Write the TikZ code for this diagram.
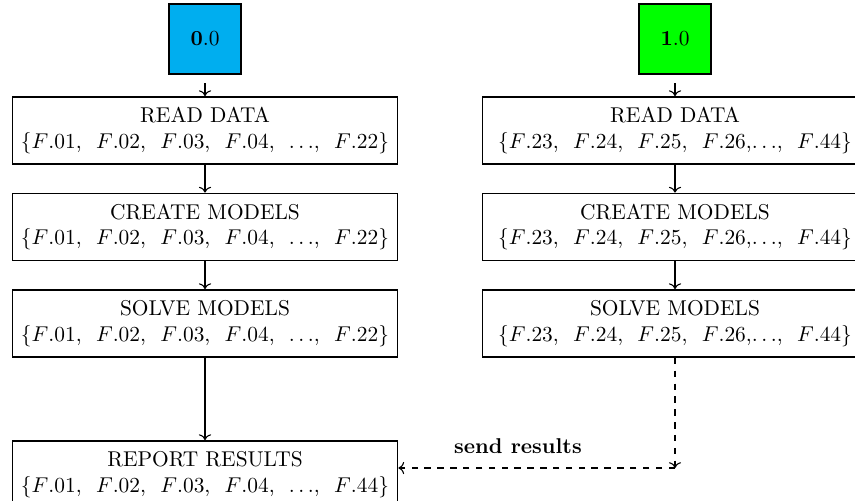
\documentclass[tikz,border=0pt]{standalone}
\usetikzlibrary{arrows.meta}
\definecolor{boxcyan}{RGB}{0,174,239}
\definecolor{boxgreen}{RGB}{0,255,0}
\tikzset{
  stage/.style={draw, line width=0.8pt, minimum width=179.8pt, minimum height=31.3pt, align=center, inner sep=2pt},
  proc/.style={draw, line width=0.8pt, minimum width=33.6pt, minimum height=32.7pt},
  conn/.style={->, line width=0.5pt},
  dconn/.style={->, line width=0.5pt, dashed},
}
\begin{document}
\begin{tikzpicture}[x=0.467pt,y=-0.467pt]
\clip (0,0) rectangle (855,501);
% processes
\node[proc, fill=boxcyan] (p0) at (205,39) {\textbf{0}.0};
\node[proc, fill=boxgreen] (p1) at (675,39) {\textbf{1}.0};
% left column
\node[stage] (r0) at (205,130.5) {READ DATA\\ \{$F$.01,\ \ $F$.02,\ \ $F$.03,\ \ $F$.04,\ \ $\ldots$,\ \ $F$.22\}};
\node[stage] (c0) at (205,227) {CREATE MODELS\\ \{$F$.01,\ \ $F$.02,\ \ $F$.03,\ \ $F$.04,\ \ $\ldots$,\ \ $F$.22\}};
\node[stage] (s0) at (205,323.5) {SOLVE MODELS\\ \{$F$.01,\ \ $F$.02,\ \ $F$.03,\ \ $F$.04,\ \ $\ldots$,\ \ $F$.22\}};
\node[stage] (rep) at (205,474.5) {REPORT RESULTS\\ \{$F$.01,\ \ $F$.02,\ \ $F$.03,\ \ $F$.04,\ \ $\ldots$,\ \ $F$.44\}};
% right column
\node[stage] (r1) at (675,130.5) {READ DATA\\ \{$F$.23,\ \ $F$.24,\ \ $F$.25,\ \ $F$.26,$\ldots$,\ \ $F$.44\}};
\node[stage] (c1) at (675,227) {CREATE MODELS\\ \{$F$.23,\ \ $F$.24,\ \ $F$.25,\ \ $F$.26,$\ldots$,\ \ $F$.44\}};
\node[stage] (s1) at (675,323.5) {SOLVE MODELS\\ \{$F$.23,\ \ $F$.24,\ \ $F$.25,\ \ $F$.26,$\ldots$,\ \ $F$.44\}};
% connectors
\draw[conn, shorten <=4pt] (p0) -- (r0);
\draw[conn] (r0) -- (c0);
\draw[conn] (c0) -- (s0);
\draw[conn] (s0) -- (rep);
\draw[conn, shorten <=4pt] (p1) -- (r1);
\draw[conn] (r1) -- (c1);
\draw[conn] (c1) -- (s1);
\coordinate (corner) at (675,468);
\draw[dconn] (s1) -- (corner);
\draw[dconn] (corner) -- (rep.east |- corner);
\node[font=\bfseries] (lbl) at (518,446) {send results};
\end{tikzpicture}
\end{document}
